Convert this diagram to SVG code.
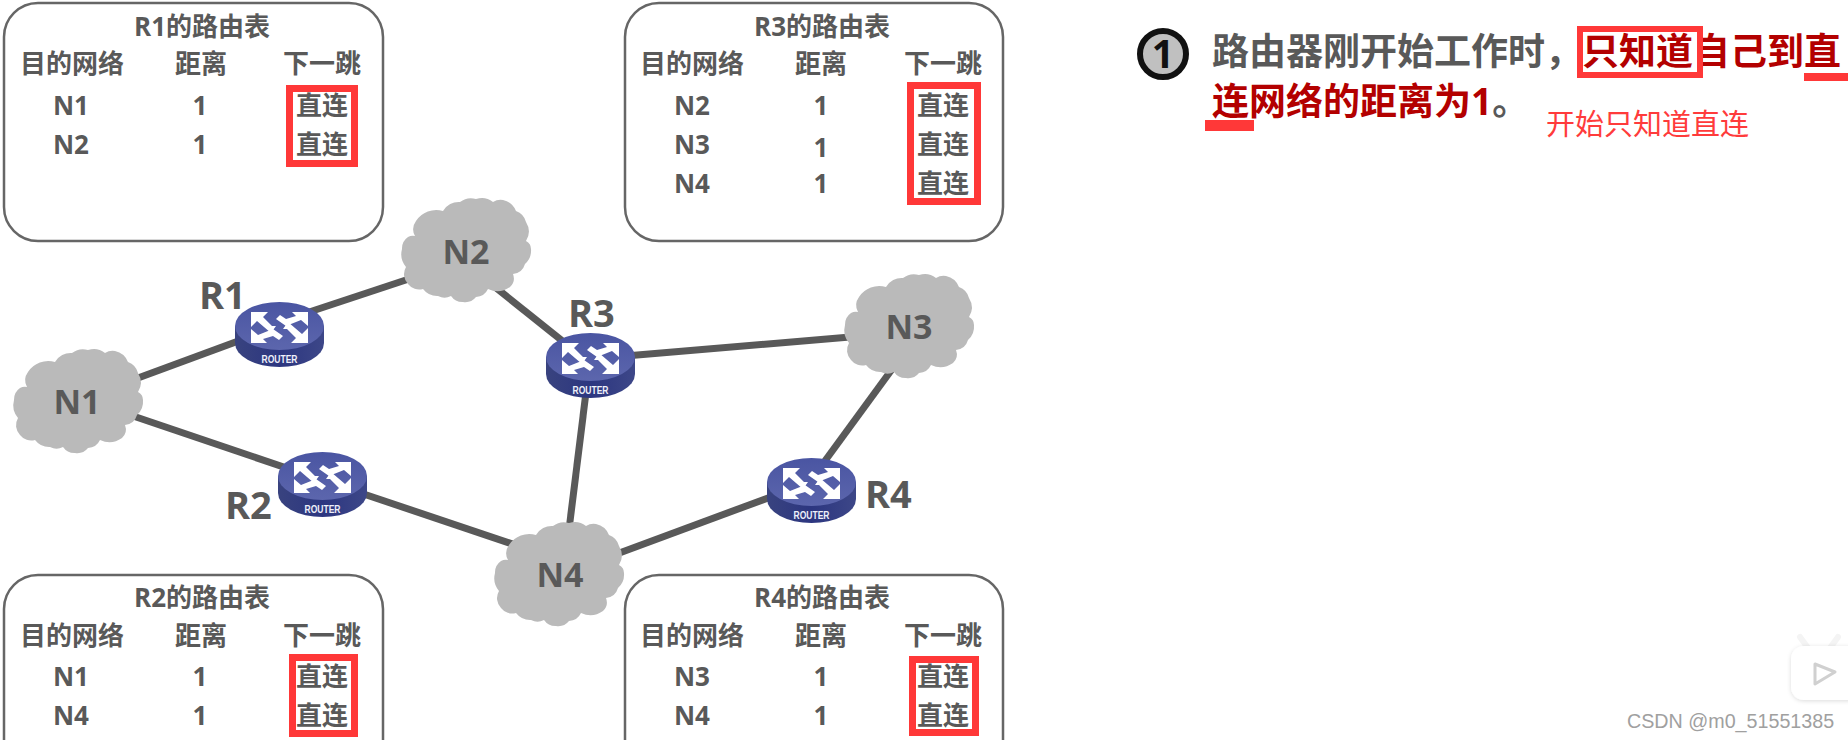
<svg xmlns="http://www.w3.org/2000/svg" width="1848" height="740" viewBox="0 0 1848 740">
<style>
text{font-family:"Open Sans","Noto Sans CJK SC",sans-serif;fill:#595959;font-weight:700}
.t{font-size:26px;text-anchor:middle}
.f{fill:none;stroke:#666;stroke-width:2.5}
.red{fill:none;stroke:#ff3838;stroke-width:7}
.link{stroke:#595959;stroke-width:7;fill:none}
.cl{fill:#bababa}
.nl{font-size:34px;text-anchor:middle}
.rl{font-size:38px}
.rt{font-family:"Liberation Sans",sans-serif;font-size:11px;font-weight:700;fill:#eef0fa;text-anchor:middle}
.hd{font-size:37px;font-family:"Noto Sans","Noto Sans CJK SC",sans-serif;font-weight:700}
</style>
<defs>
<linearGradient id="top" x1="0" y1="0" x2="0" y2="1"><stop offset="0" stop-color="#4a55a2"/><stop offset="1" stop-color="#5c66ad"/></linearGradient>
<linearGradient id="side" x1="0" y1="0" x2="1" y2="0"><stop offset="0" stop-color="#39437f"/><stop offset=".5" stop-color="#2c3680"/><stop offset="1" stop-color="#3d4788"/></linearGradient>
<g id="router">
<path d="M0 24V41A44.5 24 0 0 0 89 41V24Z" fill="url(#side)"/>
<ellipse cx="44.5" cy="24" rx="44.5" ry="24" fill="url(#top)"/>
<g fill="#fff">
<path d="M16 10H33L28 15 37 24H41L36 31 22 19 16 25Z"/>
<path d="M73 41H56L61 36 52 27H48L53 20 67 32 73 26Z"/>
<path d="M73 10H57L61 14 51 17 45 13 41 17 51 24 66 18 73 24Z"/>
<path d="M16 41H32L28 37 38 34 44 38 48 34 38 27 23 33 16 27Z"/>
</g>
</g>
<path id="cloud" class="cl" d="M13 37A14 14 0 0 1 14 22A24 24 0 0 1 41 12A18 18 0 0 1 58 3A18 18 0 0 1 74 0A18 18 0 0 1 91 3A14 14 0 0 1 101 1A18 18 0 0 1 114 12A16 16 0 0 1 124 23A18 18 0 0 1 124 42A9 9 0 0 1 129 50A18 18 0 0 1 123 65A14 14 0 0 1 111 75A12 12 0 0 1 108 88A22 22 0 0 1 86 90A14 14 0 0 1 74 98A14 14 0 0 1 61 103A14 14 0 0 1 49 97A14 14 0 0 1 36 97A18 18 0 0 1 21 90A14 14 0 0 1 6 85A14 14 0 0 1 4 68A20 20 0 0 1 0 50A14 14 0 0 1 6 38A10 10 0 0 1 13 37Z"/>
<filter id="soft" x="-20%" y="-20%" width="140%" height="140%"><feDropShadow dx="0" dy="1" stdDeviation="2" flood-color="#000" flood-opacity=".14"/></filter>
</defs>
<rect width="1848" height="740" fill="#fff"/>

<g id="connectors">
<path class="link" d="M100 392L279 326"/>
<path class="link" d="M279 322L430 272"/>
<path class="link" d="M470 267L570 347"/>
<path class="link" d="M590 359L909 332"/>
<path class="link" d="M909 346L811 480"/>
<path class="link" d="M590 360L564 570"/>
<path class="link" d="M77 397L322 480"/>
<path class="link" d="M322 480L560 560"/>
<path class="link" d="M560 575L811 482"/>
</g>

<g id="N1"><use href="#cloud" x="14" y="350"/><text class="nl" x="77" y="414">N1</text></g>
<g id="N2"><use href="#cloud" x="402" y="199"/><text class="nl" x="466" y="264">N2</text></g>
<g id="N3"><use href="#cloud" x="845" y="275"/><text class="nl" x="909" y="339">N3</text></g>
<g id="N4"><use href="#cloud" x="495" y="523"/><text class="nl" x="560" y="587">N4</text></g>

<g id="R1"><use href="#router" x="235" y="302"/><text class="rt" x="279.5" y="363" textLength="36" lengthAdjust="spacingAndGlyphs">ROUTER</text><text class="rl" x="199" y="309">R1</text></g>
<g id="R2"><use href="#router" x="278" y="452"/><text class="rt" x="322.5" y="513" textLength="36" lengthAdjust="spacingAndGlyphs">ROUTER</text><text class="rl" x="225" y="519">R2</text></g>
<g id="R3"><use href="#router" x="546" y="333"/><text class="rt" x="590.5" y="394" textLength="36" lengthAdjust="spacingAndGlyphs">ROUTER</text><text class="rl" x="568" y="327">R3</text></g>
<g id="R4"><use href="#router" x="767" y="458"/><text class="rt" x="811.5" y="519" textLength="36" lengthAdjust="spacingAndGlyphs">ROUTER</text><text class="rl" x="865" y="508">R4</text></g>

<g id="table-R1">
<rect class="f" x="4" y="3" width="379" height="238" rx="34"/>
<text class="t" x="202" y="36">R1的路由表</text>
<text class="t" x="72" y="73">目的网络</text><text class="t" x="201" y="73">距离</text><text class="t" x="322" y="73">下一跳</text>
<text class="t" x="71" y="115">N1</text><text class="t" x="200" y="115">1</text><text class="t" x="322" y="115">直连</text>
<text class="t" x="71" y="154">N2</text><text class="t" x="200" y="154">1</text><text class="t" x="322" y="154">直连</text>
<rect class="red" x="289.500" y="88.500" width="65" height="75"/>
</g>
<g id="table-R3">
<rect class="f" x="625" y="3" width="378" height="238" rx="34"/>
<text class="t" x="822" y="36">R3的路由表</text>
<text class="t" x="692" y="73">目的网络</text><text class="t" x="821" y="73">距离</text><text class="t" x="943" y="73">下一跳</text>
<text class="t" x="692" y="115">N2</text><text class="t" x="821" y="115">1</text><text class="t" x="943" y="115">直连</text>
<text class="t" x="692" y="154">N3</text><text class="t" x="821" y="157">1</text><text class="t" x="943" y="154">直连</text>
<text class="t" x="692" y="193">N4</text><text class="t" x="821" y="193">1</text><text class="t" x="943" y="193">直连</text>
<rect class="red" x="910.500" y="85.500" width="67" height="116"/>
</g>
<g id="table-R2">
<path class="f" d="M4 740V609A34 34 0 0 1 38 575H349A34 34 0 0 1 383 609V740"/>
<text class="t" x="202" y="607">R2的路由表</text>
<text class="t" x="72" y="645">目的网络</text><text class="t" x="201" y="645">距离</text><text class="t" x="322" y="645">下一跳</text>
<text class="t" x="71" y="686">N1</text><text class="t" x="200" y="686">1</text><text class="t" x="322" y="686">直连</text>
<text class="t" x="71" y="725">N4</text><text class="t" x="200" y="725">1</text><text class="t" x="322" y="725">直连</text>
<rect class="red" x="292.500" y="657.500" width="62" height="76"/>
</g>
<g id="table-R4">
<path class="f" d="M625 740V609A34 34 0 0 1 659 575H969A34 34 0 0 1 1003 609V740"/>
<text class="t" x="822" y="607">R4的路由表</text>
<text class="t" x="692" y="645">目的网络</text><text class="t" x="821" y="645">距离</text><text class="t" x="943" y="645">下一跳</text>
<text class="t" x="692" y="686">N3</text><text class="t" x="821" y="686">1</text><text class="t" x="943" y="686">直连</text>
<text class="t" x="692" y="725">N4</text><text class="t" x="821" y="725">1</text><text class="t" x="943" y="725">直连</text>
<rect class="red" x="912.500" y="659.500" width="63" height="73"/>
</g>

<g id="note">
<circle cx="1163" cy="54" r="23" fill="#c0c0c0" stroke="#111" stroke-width="6"/>
<text x="1163" y="68" text-anchor="middle" style="font-size:39px;fill:#111;font-family:'Noto Sans',sans-serif">1</text>
<text class="hd" x="1212" y="65">路由器刚开始工作时，<tspan style="fill:#b30000">只知道自己到直</tspan></text>
<text class="hd" x="1212" y="115"><tspan style="fill:#b30000">连网络的距离为1</tspan>。</text>
<rect x="1580" y="29" width="120" height="46" fill="none" stroke="#ff3838" stroke-width="6"/>
<rect x="1804" y="73" width="44" height="8" fill="#ff3838"/>
<rect x="1205" y="120" width="49" height="11" fill="#ff3838"/>
<text x="1546" y="135" style="font-size:29px;fill:#ff3b3b;font-weight:400;font-family:'Noto Sans CJK SC',sans-serif">开始只知道直连</text>
</g>

<g id="watermark">
<path d="M1808 648L1800 637M1830 648L1838 637" stroke="#f4f4f4" stroke-width="6" stroke-linecap="round"/>
<rect x="1791" y="646" width="70" height="54" rx="13" fill="#fff" filter="url(#soft)"/>
<path d="M1815 664L1835 672 1815 684Z" fill="#fff" stroke="#d0d0d0" stroke-width="3" stroke-linejoin="round"/>
<text x="1627" y="728" style="font-size:19.700px;fill:#a0a0a0;font-weight:400;font-family:'Liberation Sans',sans-serif">CSDN @m0_51551385</text>
</g>
</svg>
